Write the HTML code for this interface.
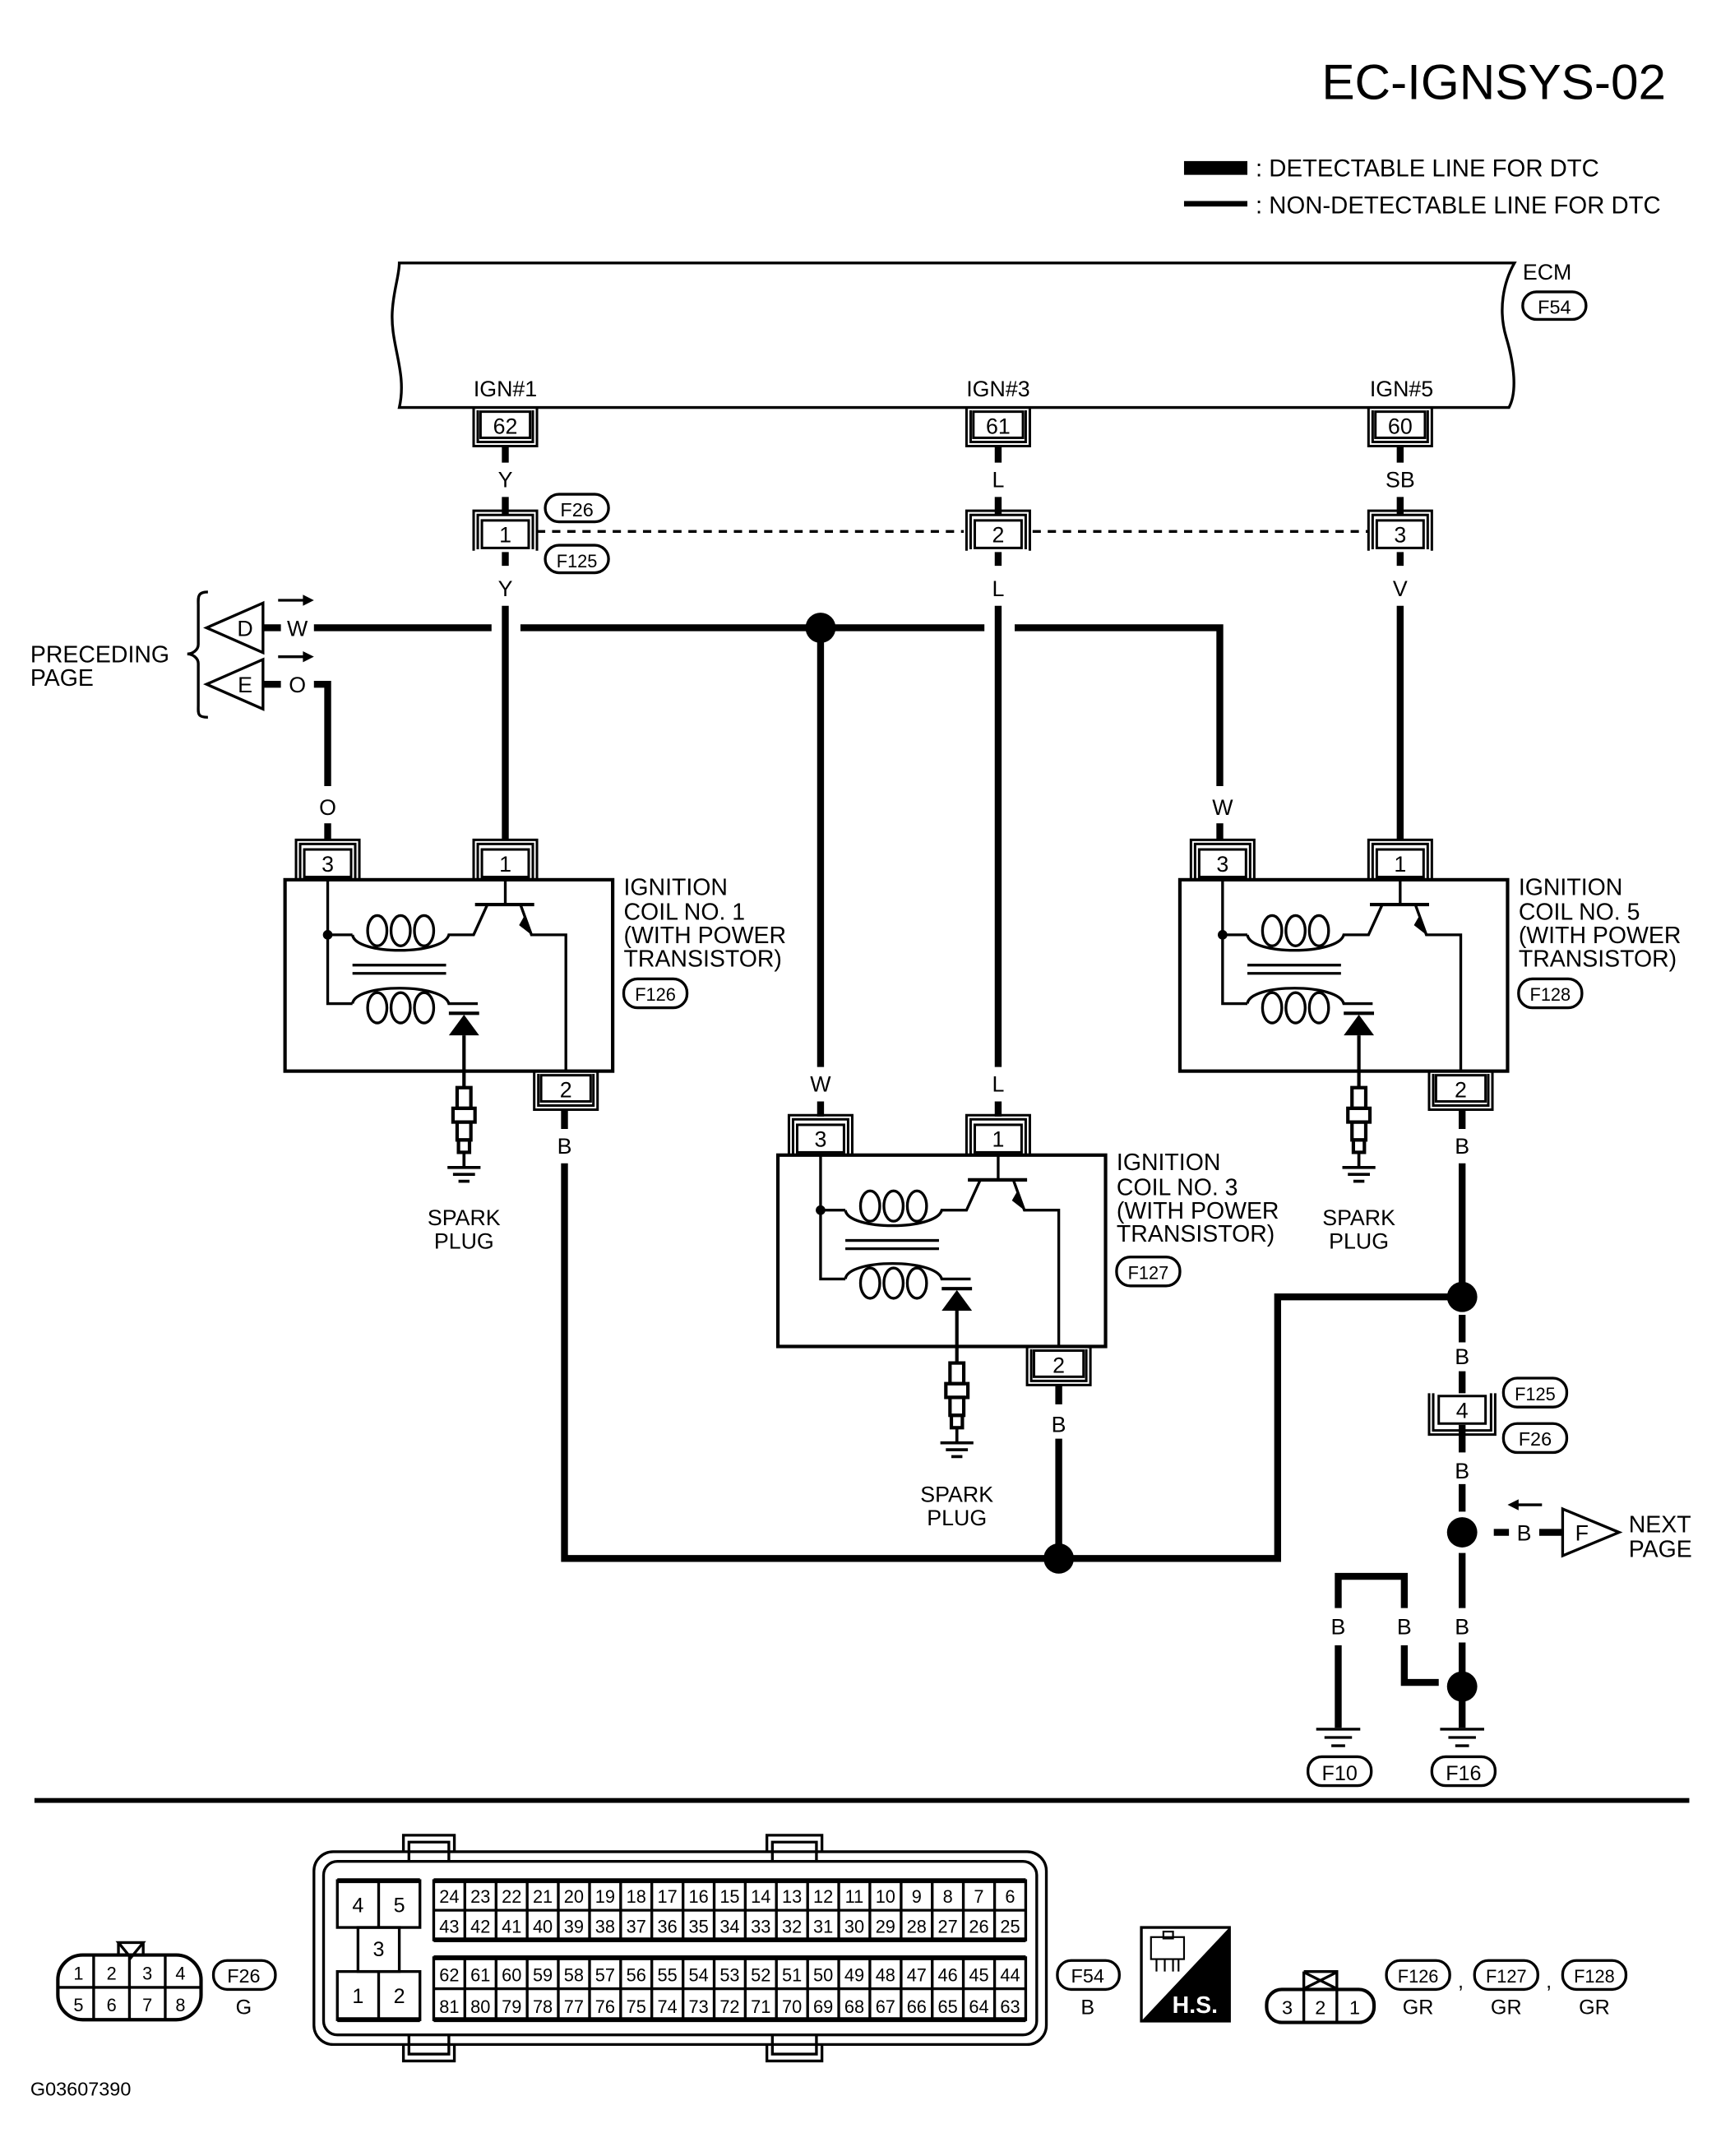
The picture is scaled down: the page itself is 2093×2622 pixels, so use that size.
<!DOCTYPE html>
<html><head><meta charset="utf-8"><style>
html,body{margin:0;padding:0;background:#fff}
svg{display:block}
text{font-family:"Liberation Sans",sans-serif;fill:#000}
</style></head><body>
<svg width="2093" height="2622" viewBox="0 0 1250 1566" xmlns="http://www.w3.org/2000/svg">
<defs>
<g id="cap"><rect x="-17" y="0" width="34" height="20" fill="#fff" stroke="#000" stroke-width="1.8"/><path d="M-23,22 V-7 H23 V22 M-20,21 V-4 H20 V21" fill="none" stroke="#000" stroke-width="1.8"/></g>
<g id="cup"><rect x="-18" y="0" width="36" height="19" fill="#fff" stroke="#000" stroke-width="1.8"/><path d="M-23,-3 V25 H23 V-3 M-20,-1 V22 H20 V-1" fill="none" stroke="#000" stroke-width="1.8"/></g>
<g id="coil">
<rect x="207" y="639" width="238" height="139" fill="none" stroke="#000" stroke-width="2.5"/>
<g fill="none" stroke="#000" stroke-width="2">
<path d="M238,639 V729 H256"/>
<path d="M238,679 H256"/>
<path d="M256,679 C258,694 322,694 326,679 H344 L354,657"/>
<ellipse cx="274" cy="676" rx="7" ry="11"/><ellipse cx="291" cy="676" rx="7" ry="11"/><ellipse cx="308" cy="676" rx="7" ry="11"/>
<path d="M256,729 C258,714 322,714 326,729 H347"/>
<ellipse cx="274" cy="732" rx="7" ry="11"/><ellipse cx="291" cy="732" rx="7" ry="11"/><ellipse cx="308" cy="732" rx="7" ry="11"/>
<path d="M256,701 H324 M256,707 H324"/>
<path d="M326,736 H348" stroke-width="2.5"/>
<path d="M345,657 H388" stroke-width="2.5"/>
<path d="M367,639 V657"/>
<path d="M378,657 L386,679 H411 V778"/>
<path d="M337,752 V790" stroke-width="2.5"/>
<rect x="332" y="790" width="10" height="15" stroke-width="2.5"/><rect x="329" y="805" width="16" height="10" stroke-width="2.5"/><rect x="332" y="815" width="10" height="13" stroke-width="2.5"/><rect x="333" y="828" width="8" height="9" stroke-width="2.5"/>
<path d="M337,837 V848 M325,848 H349 M329,853 H345 M333,858 H341" stroke-width="2.2"/>
</g>
<circle cx="238" cy="679" r="3.5"/>
<path d="M381,665 L386,679 L377,672 Z"/>
<path d="M326,752 L348,752 L337,737 Z"/>
<use href="#cap" x="238" y="617"/><use href="#cap" x="367" y="617"/><use href="#cup" x="411" y="781"/>
<text x="238" y="633" font-size="16" text-anchor="middle">3</text>
<text x="367" y="633" font-size="16" text-anchor="middle">1</text>
<text x="411" y="797" font-size="16" text-anchor="middle">2</text>
</g>
</defs>

<text x="1210" y="72" font-size="36" text-anchor="end">EC-IGNSYS-02</text>
<rect x="860" y="117" width="46" height="10"/>
<text x="912" y="128" font-size="17.5">: DETECTABLE LINE FOR DTC</text>
<rect x="860" y="146" width="46" height="4"/>
<text x="912" y="155" font-size="17.5">: NON-DETECTABLE LINE FOR DTC</text>

<!-- ECM -->
<path d="M290,296 C296,270 283,250 285,225 C286,210 290,200 290,191 H1100 C1092,205 1088,225 1094,245 C1100,265 1102,285 1096,296 Z" fill="none" stroke="#000" stroke-width="2"/>
<text x="1106" y="203" font-size="16">ECM</text>
<rect x="1106" y="212" width="46" height="20" rx="10" fill="none" stroke="#000" stroke-width="2"/><text x="1129" y="228" font-size="14" text-anchor="middle">F54</text>
<text x="367" y="288" font-size="16" text-anchor="middle">IGN#1</text>
<text x="725" y="288" font-size="16" text-anchor="middle">IGN#3</text>
<text x="1018" y="288" font-size="16" text-anchor="middle">IGN#5</text>
<use href="#cup" x="367" y="299"/><use href="#cup" x="725" y="299"/><use href="#cup" x="1017" y="299"/>
<text x="367" y="315" font-size="16" text-anchor="middle">62</text>
<text x="725" y="315" font-size="16" text-anchor="middle">61</text>
<text x="1017" y="315" font-size="16" text-anchor="middle">60</text>

<g stroke="#000" stroke-width="5" fill="none">
<path d="M367,324 V336 M367,361 V374 M367,401 V411 M367,440 V610"/>
<path d="M725,324 V336 M725,361 V374 M725,401 V411 M725,440 V775 M725,800 V811"/>
<path d="M1017,324 V336 M1017,361 V374 M1017,401 V411 M1017,440 V610"/>
<path d="M191,456 H204 M228,456 H357 M378,456 H715 M737,456 H886 V571 M886,598 V610"/>
<path d="M596,456 V775 M596,800 V811"/>
<path d="M191,497 H204 M228,497 H238 V571 M238,598 V610"/>
<path d="M410,806 V820 M410,845 V1132 H928 V942 H1062"/>
<path d="M769,1006 V1020 M769,1045 V1132"/>
<path d="M1062,806 V820 M1062,845 V942 M1062,955 V975 M1062,996 V1012 M1062,1035 V1055 M1062,1078 V1098 M1062,1128 V1168 M1062,1193 V1215 M1062,1235 V1255"/>
<path d="M1085,1113 H1096 M1118,1113 H1135"/>
<path d="M972,1255 V1195 M972,1168 V1145 H1020 V1168 M1020,1195 V1222 H1045"/>
</g>
<path d="M390,386 H700 M750,386 H994" stroke="#000" stroke-width="2" stroke-dasharray="6,5"/>
<use href="#cap" x="367" y="378"/><use href="#cap" x="725" y="378"/><use href="#cap" x="1017" y="378"/>
<text x="367" y="394" font-size="16" text-anchor="middle">1</text>
<text x="725" y="394" font-size="16" text-anchor="middle">2</text>
<text x="1017" y="394" font-size="16" text-anchor="middle">3</text>
<rect x="396" y="359" width="46" height="20" rx="10" fill="none" stroke="#000" stroke-width="2"/><text x="419" y="375" font-size="14" text-anchor="middle">F26</text>
<rect x="396" y="396" width="46" height="20" rx="10" fill="none" stroke="#000" stroke-width="2"/><text x="419" y="412" font-size="13" text-anchor="middle">F125</text>

<g font-size="16" text-anchor="middle">
<text x="367" y="354">Y</text><text x="725" y="354">L</text><text x="1017" y="354">SB</text>
<text x="367" y="433">Y</text><text x="725" y="433">L</text><text x="1017" y="433">V</text>
<text x="216" y="462">W</text><text x="216" y="503">O</text>
<text x="238" y="592">O</text><text x="888" y="592">W</text>
<text x="596" y="793">W</text><text x="725" y="793">L</text>
<text x="410" y="838">B</text><text x="1062" y="838">B</text><text x="769" y="1040">B</text>
<text x="1062" y="991">B</text><text x="1062" y="1074">B</text><text x="1107" y="1119">B</text>
<text x="972" y="1187">B</text><text x="1020" y="1187">B</text><text x="1062" y="1187">B</text>
</g>

<circle cx="596" cy="456" r="11"/>
<circle cx="769" cy="1132" r="11"/>
<circle cx="1062" cy="942" r="11"/>
<circle cx="1062" cy="1113" r="11"/>
<circle cx="1062" cy="1225" r="11"/>

<!-- preceding page -->
<path d="M191,438 L150,456 L191,474 Z M191,479 L150,497 L191,515 Z" fill="#fff" stroke="#000" stroke-width="2"/>
<text x="178" y="462" font-size="16" text-anchor="middle">D</text>
<text x="178" y="503" font-size="16" text-anchor="middle">E</text>
<path d="M202,436 H222 M202,477 H222" stroke="#000" stroke-width="2"/>
<path d="M228,436 L220,432 L220,440 Z M228,477 L220,473 L220,481 Z"/>
<path d="M151,430 C143,430 144,434 144,440 V468 C144,472 140,475 136,475 C140,475 144,478 144,482 V512 C144,518 143,521 151,521" fill="none" stroke="#000" stroke-width="2"/>
<text x="22" y="481" font-size="17">PRECEDING</text>
<text x="22" y="498" font-size="17">PAGE</text>

<!-- next page -->
<path d="M1135,1096 L1176,1113 L1135,1130 Z" fill="#fff" stroke="#000" stroke-width="2"/>
<text x="1149" y="1119" font-size="16" text-anchor="middle">F</text>
<path d="M1100,1093 H1120" stroke="#000" stroke-width="2"/><path d="M1095,1093 L1103,1089 L1103,1097 Z"/>
<text x="1183" y="1113" font-size="17">NEXT</text>
<text x="1183" y="1131" font-size="17">PAGE</text>

<!-- coils -->
<use href="#coil"/>
<use href="#coil" x="650"/>
<use href="#coil" x="358" y="200"/>
<g font-size="17">
<text x="453" y="650">IGNITION</text><text x="453" y="668">COIL NO. 1</text><text x="453" y="685">(WITH POWER</text><text x="453" y="702">TRANSISTOR)</text>
<text x="1103" y="650">IGNITION</text><text x="1103" y="668">COIL NO. 5</text><text x="1103" y="685">(WITH POWER</text><text x="1103" y="702">TRANSISTOR)</text>
<text x="811" y="850">IGNITION</text><text x="811" y="868">COIL NO. 3</text><text x="811" y="885">(WITH POWER</text><text x="811" y="902">TRANSISTOR)</text>
</g>
<g fill="none" stroke="#000" stroke-width="2">
<rect x="453" y="711" width="46" height="21" rx="10"/><rect x="1103" y="711" width="46" height="21" rx="10"/><rect x="811" y="913" width="46" height="21" rx="10"/>
</g>
<g font-size="13" text-anchor="middle"><text x="476" y="727">F126</text><text x="1126" y="727">F128</text><text x="834" y="929">F127</text></g>
<g font-size="16" text-anchor="middle">
<text x="337" y="890">SPARK</text><text x="337" y="907">PLUG</text>
<text x="987" y="890">SPARK</text><text x="987" y="907">PLUG</text>
<text x="695" y="1091">SPARK</text><text x="695" y="1108">PLUG</text>
</g>

<!-- connector 4 -->
<rect x="1045" y="1014" width="34" height="20" fill="#fff" stroke="#000" stroke-width="1.8"/>
<path d="M1038,1012 V1042 H1086 V1012 M1041,1012 V1039 H1083 V1012" fill="none" stroke="#000" stroke-width="1.8"/>
<text x="1062" y="1030" font-size="16" text-anchor="middle">4</text>
<rect x="1092" y="1001" width="46" height="21" rx="10" fill="none" stroke="#000" stroke-width="2"/><text x="1115" y="1017" font-size="13" text-anchor="middle">F125</text>
<rect x="1092" y="1034" width="46" height="21" rx="10" fill="none" stroke="#000" stroke-width="2"/><text x="1115" y="1050" font-size="14" text-anchor="middle">F26</text>

<!-- grounds -->
<path d="M956,1256 H988 M962,1262 H982 M967,1268 H977 M1046,1256 H1078 M1052,1262 H1072 M1057,1268 H1067" stroke="#000" stroke-width="2"/>
<rect x="950" y="1276" width="46" height="21" rx="10" fill="none" stroke="#000" stroke-width="2"/><text x="973" y="1293" font-size="15" text-anchor="middle">F10</text>
<rect x="1040" y="1276" width="46" height="21" rx="10" fill="none" stroke="#000" stroke-width="2"/><text x="1063" y="1293" font-size="15" text-anchor="middle">F16</text>

<rect x="25" y="1306" width="1202" height="3.5"/>

<!-- F26 connector -->
<rect x="42" y="1420" width="104" height="47" rx="18" fill="#fff" stroke="#000" stroke-width="2.5"/>
<path d="M42,1443.5 H146 M68,1420 V1467 M94,1420 V1467 M120,1420 V1467" stroke="#000" stroke-width="2"/>
<path d="M86,1411 H104 L95,1422 Z M86,1411 V1421 M104,1411 V1421" fill="none" stroke="#000" stroke-width="2"/>
<g font-size="13" text-anchor="middle"><text x="57" y="1438">1</text><text x="81" y="1438">2</text><text x="107" y="1438">3</text><text x="131" y="1438">4</text><text x="57" y="1461">5</text><text x="81" y="1461">6</text><text x="107" y="1461">7</text><text x="131" y="1461">8</text></g>
<rect x="155" y="1424" width="45" height="21" rx="10" fill="none" stroke="#000" stroke-width="2"/><text x="177" y="1440" font-size="14" text-anchor="middle">F26</text>
<text x="177" y="1463" font-size="15" text-anchor="middle">G</text>

<!-- ECM connector -->
<g fill="none" stroke="#000" stroke-width="2">
<rect x="228" y="1345" width="532" height="140" rx="14"/>
<rect x="235" y="1352" width="518" height="126" rx="10"/>
<path d="M293,1345 V1333 H330 V1345 M297,1352 V1338 H326 V1352 M557,1345 V1333 H597 V1345 M561,1352 V1338 H593 V1352"/>
<path d="M293,1485 V1497 H330 V1485 M297,1478 V1492 H326 V1478 M557,1485 V1497 H597 V1485 M561,1478 V1492 H593 V1478"/>
<rect x="245" y="1366" width="60" height="34"/><path d="M275,1366 V1400"/>
<rect x="260" y="1400" width="30" height="32"/>
<rect x="245" y="1432" width="60" height="35"/><path d="M275,1432 V1467"/>
<rect x="315" y="1366" width="430" height="43"/><path d="M315,1387.5 H745"/>
<rect x="315" y="1422" width="430" height="45"/><path d="M315,1444.5 H745"/>
<path d="M337.6,1366V1409M360.3,1366V1409M382.9,1366V1409M405.5,1366V1409M428.2,1366V1409M450.8,1366V1409M473.4,1366V1409M496.1,1366V1409M518.7,1366V1409M541.3,1366V1409M563.9,1366V1409M586.6,1366V1409M609.2,1366V1409M631.8,1366V1409M654.5,1366V1409M677.1,1366V1409M699.7,1366V1409M722.4,1366V1409"/>
<path d="M337.6,1422V1467M360.3,1422V1467M382.9,1422V1467M405.5,1422V1467M428.2,1422V1467M450.8,1422V1467M473.4,1422V1467M496.1,1422V1467M518.7,1422V1467M541.3,1422V1467M563.9,1422V1467M586.6,1422V1467M609.2,1422V1467M631.8,1422V1467M654.5,1422V1467M677.1,1422V1467M699.7,1422V1467M722.4,1422V1467"/>
</g>
<path d="M315,1366 H745 M315,1409 H745 M315,1422 H745 M315,1467 H745 M245,1366 H305 M245,1467 H305" stroke="#000" stroke-width="3.5"/>
<g font-size="15" text-anchor="middle"><text x="260" y="1389">4</text><text x="290" y="1389">5</text><text x="275" y="1421">3</text><text x="260" y="1455">1</text><text x="290" y="1455">2</text></g>
<g font-size="13" text-anchor="middle">
<text x="326.3" y="1382">24</text><text x="348.9" y="1382">23</text><text x="371.6" y="1382">22</text><text x="394.2" y="1382">21</text><text x="416.8" y="1382">20</text><text x="439.5" y="1382">19</text><text x="462.1" y="1382">18</text><text x="484.7" y="1382">17</text><text x="507.4" y="1382">16</text><text x="530" y="1382">15</text><text x="552.6" y="1382">14</text><text x="575.2" y="1382">13</text><text x="597.9" y="1382">12</text><text x="620.5" y="1382">11</text><text x="643.1" y="1382">10</text><text x="665.8" y="1382">9</text><text x="688.4" y="1382">8</text><text x="711" y="1382">7</text><text x="733.7" y="1382">6</text>
<text x="326.3" y="1404">43</text><text x="348.9" y="1404">42</text><text x="371.6" y="1404">41</text><text x="394.2" y="1404">40</text><text x="416.8" y="1404">39</text><text x="439.5" y="1404">38</text><text x="462.1" y="1404">37</text><text x="484.7" y="1404">36</text><text x="507.4" y="1404">35</text><text x="530" y="1404">34</text><text x="552.6" y="1404">33</text><text x="575.2" y="1404">32</text><text x="597.9" y="1404">31</text><text x="620.5" y="1404">30</text><text x="643.1" y="1404">29</text><text x="665.8" y="1404">28</text><text x="688.4" y="1404">27</text><text x="711" y="1404">26</text><text x="733.7" y="1404">25</text>
<text x="326.3" y="1439">62</text><text x="348.9" y="1439">61</text><text x="371.6" y="1439">60</text><text x="394.2" y="1439">59</text><text x="416.8" y="1439">58</text><text x="439.5" y="1439">57</text><text x="462.1" y="1439">56</text><text x="484.7" y="1439">55</text><text x="507.4" y="1439">54</text><text x="530" y="1439">53</text><text x="552.6" y="1439">52</text><text x="575.2" y="1439">51</text><text x="597.9" y="1439">50</text><text x="620.5" y="1439">49</text><text x="643.1" y="1439">48</text><text x="665.8" y="1439">47</text><text x="688.4" y="1439">46</text><text x="711" y="1439">45</text><text x="733.7" y="1439">44</text>
<text x="326.3" y="1462">81</text><text x="348.9" y="1462">80</text><text x="371.6" y="1462">79</text><text x="394.2" y="1462">78</text><text x="416.8" y="1462">77</text><text x="439.5" y="1462">76</text><text x="462.1" y="1462">75</text><text x="484.7" y="1462">74</text><text x="507.4" y="1462">73</text><text x="530" y="1462">72</text><text x="552.6" y="1462">71</text><text x="575.2" y="1462">70</text><text x="597.9" y="1462">69</text><text x="620.5" y="1462">68</text><text x="643.1" y="1462">67</text><text x="665.8" y="1462">66</text><text x="688.4" y="1462">65</text><text x="711" y="1462">64</text><text x="733.7" y="1462">63</text>
</g>
<rect x="768" y="1424" width="45" height="21" rx="10" fill="none" stroke="#000" stroke-width="2"/><text x="790" y="1440" font-size="14" text-anchor="middle">F54</text>
<text x="790" y="1463" font-size="15" text-anchor="middle">B</text>

<!-- H.S. -->
<rect x="829" y="1400" width="64" height="68" fill="#fff" stroke="#000" stroke-width="2"/>
<path d="M893,1400 V1468 H829 Z"/>
<g fill="none" stroke="#000" stroke-width="1.3"><rect x="836" y="1407" width="24" height="16"/><path d="M840,1423 V1432 M846,1423 V1432 M852,1423 V1432 M856,1423 V1432"/><rect x="845" y="1403" width="7" height="5"/></g>
<text x="868" y="1462" font-size="17" font-weight="bold" text-anchor="middle" style="fill:#fff">H.S.</text>

<!-- 3 pin -->
<rect x="920" y="1445" width="78" height="24" rx="11" fill="#fff" stroke="#000" stroke-width="2.5"/>
<path d="M947,1445 V1469 M971,1445 V1469 M947,1432 H971 V1445 M947,1432 V1445 M948,1433 L970,1444 M970,1433 L948,1444" fill="none" stroke="#000" stroke-width="2"/>
<g font-size="14" text-anchor="middle"><text x="935" y="1463">3</text><text x="959" y="1463">2</text><text x="984" y="1463">1</text></g>
<g fill="none" stroke="#000" stroke-width="2"><rect x="1007" y="1424" width="46" height="21" rx="10"/><rect x="1071" y="1424" width="46" height="21" rx="10"/><rect x="1135" y="1424" width="46" height="21" rx="10"/></g>
<g font-size="13" text-anchor="middle"><text x="1030" y="1440">F126</text><text x="1094" y="1440">F127</text><text x="1158" y="1440">F128</text></g>
<g font-size="15" text-anchor="middle"><text x="1061" y="1444">,</text><text x="1125" y="1444">,</text><text x="1030" y="1463">GR</text><text x="1094" y="1463">GR</text><text x="1158" y="1463">GR</text></g>

<text x="22" y="1522" font-size="14">G03607390</text>
</svg>
</body></html>
